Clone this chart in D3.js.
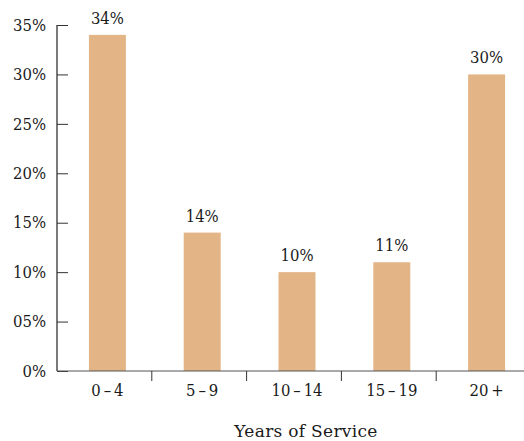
<!DOCTYPE html>
<html>
<head>
<meta charset="utf-8">
<script src="https://cdn.jsdelivr.net/npm/d3@7/dist/d3.min.js"></script>
<style>
  html, body { margin: 0; padding: 0; background: #fff; }
  svg text { font-family: "DejaVu Serif Condensed", "DejaVu Serif", serif; font-stretch: condensed; fill: #1a1a1a; }
  svg text.title { font-family: "DejaVu Serif", serif; font-stretch: normal; letter-spacing: 0.3px; }
</style>
</head>
<body>
<svg id="chart" width="524" height="441"></svg>
<script>
// Share of staff by years of service
const categories = ["0\u2009\u2013\u20094", "5\u2009\u2013\u20099", "10\u2009\u2013\u200914", "15\u2009\u2013\u200919", "20\u2009+"];
const values = [34, 14, 10, 11, 30];
const yTickValues = [0, 5, 10, 15, 20, 25, 30, 35];
const yTickLabels = ["0%", "05%", "10%", "15%", "20%", "25%", "30%", "35%"];
const xTitle = "Years of Service";

const svg = d3.select("#chart");
const plotLeft = 57, plotBottom = 371, plotTop = 25;
const fontSize = "16.5px";

const x = d3.scaleBand()
  .domain(categories)
  .range([60, 534])
  .paddingInner(0.61)
  .paddingOuter(0.305);

const y = d3.scaleLinear().domain([0, 35]).range([plotBottom, plotTop]);

// bars
svg.append("g").selectAll("rect")
  .data(values)
  .join("rect")
  .attr("x", (d, i) => x(categories[i]))
  .attr("y", d => y(d))
  .attr("width", x.bandwidth())
  .attr("height", d => y(0) - y(d))
  .attr("fill", "#e3b486");

// value labels
svg.append("g").selectAll("text")
  .data(values)
  .join("text")
  .attr("x", (d, i) => x(categories[i]) + x.bandwidth() / 2)
  .attr("y", d => y(d) - 11)
  .attr("text-anchor", "middle")
  .style("font-size", fontSize)
  .text(d => d + "%");

// y axis: ticks point inward
const yAxis = svg.append("g")
  .attr("transform", `translate(${plotLeft},0)`)
  .call(d3.axisLeft(y)
    .tickValues(yTickValues)
    .tickSize(-11)
    .tickPadding(11)
    .tickFormat((d, i) => yTickLabels[i]));
yAxis.select(".domain").attr("d", `M0,${plotTop}V${plotBottom}`).attr("stroke", "#222").attr("stroke-width", 1.2);
yAxis.selectAll(".tick line").attr("stroke", "#333");
yAxis.selectAll(".tick text").style("font-size", fontSize).attr("fill", "#1a1a1a");

// x axis: separators between categories
const sepScale = d3.scaleBand().domain(categories).range([57, 531]).paddingInner(0).paddingOuter(0);
const xAxis = svg.append("g")
  .attr("transform", `translate(0,${plotBottom})`)
  .call(d3.axisBottom(x).tickSize(0).tickPadding(13));
xAxis.select(".domain").attr("d", `M${plotLeft},0H524`).attr("stroke", "#555").attr("stroke-width", 1.2);
xAxis.selectAll(".tick text").style("font-size", fontSize).attr("fill", "#1a1a1a");
xAxis.selectAll(".sep")
  .data(categories.slice(1))
  .join("line")
  .attr("class", "sep")
  .attr("x1", d => sepScale(d))
  .attr("x2", d => sepScale(d))
  .attr("y1", 0)
  .attr("y2", 10)
  .attr("stroke", "#333");

// axis title
svg.append("text")
  .attr("class", "title")
  .attr("x", 306)
  .attr("y", 437)
  .attr("text-anchor", "middle")
  .style("font-size", "17px")
  .text(xTitle);
</script>
</body>
</html>
